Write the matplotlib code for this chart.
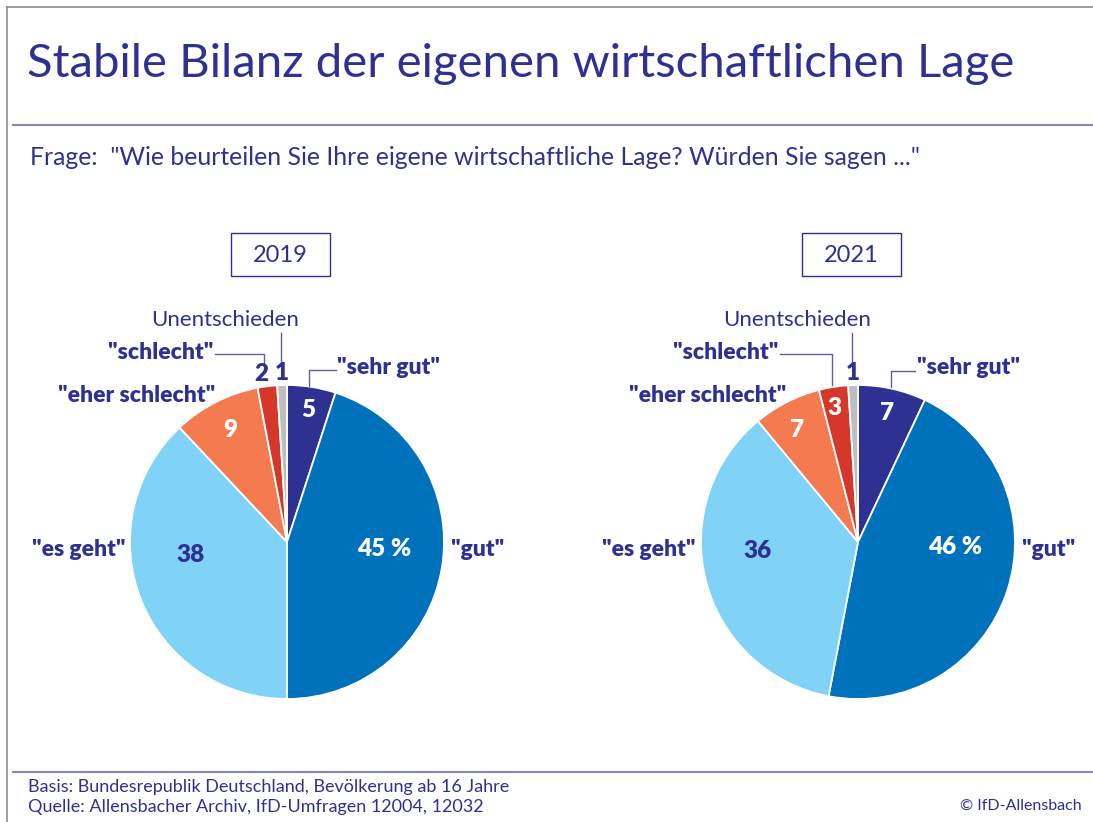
import matplotlib
matplotlib.use("Agg")
import matplotlib.pyplot as plt
from matplotlib.lines import Line2D
from matplotlib.patches import Rectangle
import numpy as np

plt.rcParams['font.family'] = ['Lato', 'DejaVu Sans']

W, H = 1093, 822
NAVY = '#2e3192'
LINE = '#8585b8'

# data
categories = ['"sehr gut"', '"gut"', '"es geht"', '"eher schlecht"', '"schlecht"', 'Unentschieden']
years = ['2019', '2021']
values_2019 = [5, 45, 38, 9, 2, 1]
values_2021 = [7, 46, 36, 7, 3, 1]
colors = ['#2e3192', '#0072bc', '#80d3f7', '#f47b4f', '#d5372b', '#bcbec0']

fig = plt.figure(figsize=(W / 100, H / 100), dpi=100)


def fx(x):
    return x / W


def fy(y):
    return 1 - y / H


def hline(x0, x1, y, color, lw):
    fig.add_artist(Line2D([fx(x0), fx(x1)], [fy(y), fy(y)], color=color, lw=lw))


# frame and rules
fig.add_artist(Line2D([fx(7), fx(W)], [fy(7), fy(7)], color='#8c8c8c', lw=1.2))
fig.add_artist(Line2D([fx(7), fx(7)], [fy(7), fy(H)], color='#8c8c8c', lw=1.2))
hline(13, W, 125, LINE, 1.5)
hline(13, W, 772, LINE, 1.5)

fig.text(fx(27), fy(64), 'Stabile Bilanz der eigenen wirtschaftlichen Lage',
         fontsize=34, color=NAVY, va='center', ha='left')
fig.text(fx(30), fy(157), 'Frage:  "Wie beurteilen Sie Ihre eigene wirtschaftliche Lage? Würden Sie sagen ..."',
         fontsize=17.8, color=NAVY, va='center', ha='left')
fig.text(fx(28), fy(787), 'Basis: Bundesrepublik Deutschland, Bevölkerung ab 16 Jahre',
         fontsize=13, color=NAVY, va='center', ha='left')
fig.text(fx(28), fy(807), 'Quelle: Allensbacher Archiv, IfD-Umfragen 12004, 12032',
         fontsize=13, color=NAVY, va='center', ha='left')
fig.text(fx(1082), fy(806), '© IfD-Allensbach', fontsize=11.5, color=NAVY, va='center', ha='right')

R = 157
centers = [(287, 542), (858, 542)]
# number label placement: (fraction along wedge clockwise, radius, text colour)
inner = {
    '2019': [(0.5, 0.85, 'white'), (0.47, 0.62, 'white'), (0.6, 0.62, NAVY),
             (0.5, 0.80, 'white'), (0.3, 1.08, NAVY), (0.5, 1.08, NAVY)],
    '2021': [(0.5, 0.84, 'white'), (0.41, 0.62, 'white'), (0.57, 0.64, NAVY),
             (0.44, 0.81, 'white'), (0.4, 0.87, 'white'), (0.5, 1.08, NAVY)],
}
# category label offsets in px from centre (dx, dy up, ha)
cat_pos = {
    '2019': [(50, 175, 'left'), (164, -7, 'left'), (-162, -7, 'right'),
             (-72, 147, 'right'), (-74, 190, 'right'), (-62, 222, 'center')],
    '2021': [(59, 175, 'left'), (164, -7, 'left'), (-162, -7, 'right'),
             (-72, 147, 'right'), (-80, 190, 'right'), (-61, 222, 'center')],
}
# leader polylines in px offsets
leaders = {
    '2019': [[(49, 172), (22, 172), (22, 156)],
             [(-72, 188), (-23, 188), (-23, 179)],
             [(-6, 209), (-6, 180)]],
    '2021': [[(57, 171), (33, 171), (33, 155)],
             [(-78, 188), (-26, 188), (-26, 157)],
             [(-6, 209), (-6, 179)]],
}

for year, vals, (cx, cy) in zip(years, [values_2019, values_2021], centers):
    L = 1.05
    ax = fig.add_axes([fx(cx - L * R), fy(cy + L * R), 2 * L * R / W, 2 * L * R / H])
    wedges, _ = ax.pie(vals, colors=colors, startangle=90, counterclock=False,
                       wedgeprops=dict(edgecolor='white', linewidth=1.3))
    ax.set_xlim(-L, L)
    ax.set_ylim(-L, L)
    ax.set_aspect('equal')
    ax.axis('off')

    for i, (w, v) in enumerate(zip(wedges, vals)):
        f, r, c = inner[year][i]
        ang = np.deg2rad(w.theta2 - f * (w.theta2 - w.theta1))
        txt = f'{v} %' if i == 1 else str(v)
        ax.text(r * np.cos(ang), r * np.sin(ang), txt, ha='center', va='center',
                fontsize=17.5, fontweight='heavy', color=c)

    for i, name in enumerate(categories):
        dx, dy, ha = cat_pos[year][i]
        if i == 5:
            ax.text(dx / R, dy / R, name, ha=ha, va='center', fontsize=16,
                    color=NAVY)
        else:
            ax.text(dx / R, dy / R, name, ha=ha, va='center', fontsize=16.5,
                    color=NAVY, fontweight='heavy')

    for pts in leaders[year]:
        xs = [p[0] / R for p in pts]
        ys = [p[1] / R for p in pts]
        ax.plot(xs, ys, color='#5c5cab', lw=1, clip_on=False)

    # year box
    bx0, bx1 = cx - 56, cx + 43
    fig.add_artist(Rectangle((fx(bx0), fy(276)), (bx1 - bx0) / W, 43 / H,
                             fill=False, edgecolor=NAVY, lw=1))
    fig.text(fx((bx0 + bx1) / 2), fy(255), year, ha='center', va='center',
             fontsize=17, color=NAVY)

fig.savefig('out.png', dpi=100)
